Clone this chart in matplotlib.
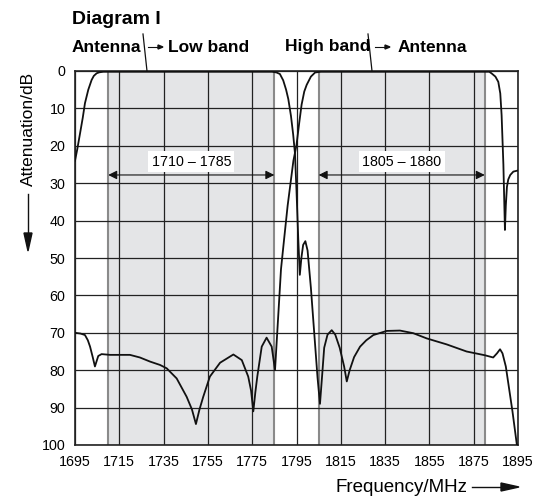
import numpy as np
import matplotlib.pyplot as plt

plt.rcParams['font.family'] = ['Liberation Sans', 'DejaVu Sans']

# Antenna -> Low band
low_f = [1695, 1696, 1697.3, 1698.5, 1699.5, 1701, 1702.5, 1703.5, 1704.8, 1706, 1707.8,
         1784, 1786, 1787.5, 1789, 1790.3, 1791.3, 1792.5, 1793.5, 1794.3, 1795, 1795.8,
         1796.5, 1797.2, 1798, 1799, 1800, 1801.5, 1803, 1804.5, 1805.6, 1806.5, 1807.5,
         1809, 1810.9, 1812.5, 1814.5, 1816.5, 1817.7, 1819, 1821, 1823.7, 1826.5, 1829.7,
         1835.7, 1841.7, 1847.7, 1853.8, 1862.8, 1871.8, 1880, 1883.8, 1885.5, 1886.9,
         1888, 1889.5, 1891, 1892.5, 1894.5, 1895]
low_db = [24, 21, 16.6, 12.5, 8.6, 5, 2.4, 1.3, 0.6, 0.35, 0.2,
          0.2, 0.4, 0.8, 2.5, 5, 7.5, 12, 17, 22, 32, 45,
          54.5, 50, 46.5, 45.5, 48, 58, 70, 82, 89, 82, 74,
          70.5, 69.3, 70.5, 74, 79, 83, 80, 76.5, 73.7, 72, 70.6,
          69.5, 69.4, 70.1, 71.5, 73.1, 75, 76, 76.6, 75.5, 74.4,
          75.5, 79, 85, 91, 100, 100]

# High band -> Antenna
high_f = [1695, 1697.5, 1699.5, 1700.8, 1701.8, 1703, 1704, 1705.5, 1707, 1710.8, 1719.8,
          1724.3, 1728.9, 1733.4, 1736.4, 1740.9, 1745.4, 1747.8, 1749.6, 1751.2, 1752.9,
          1755.9, 1760.5, 1766.5, 1770.3, 1773.2, 1774.5, 1775.5, 1776.4, 1777.3, 1779.3,
          1781.5, 1783.8, 1785.3, 1786.5, 1788, 1789.4, 1791, 1793.6, 1795, 1796.2, 1797.3,
          1798.5, 1799.6, 1801.5, 1803.4, 1806, 1882, 1883, 1884.8, 1886.1, 1887, 1887.6,
          1888.4, 1888.8, 1889.1, 1889.5, 1890, 1890.6, 1891.5, 1892.9, 1895]
high_db = [70, 70.2, 70.6, 72, 73.7, 76.5, 79, 76.2, 75.7, 75.9, 75.9,
           76.6, 77.7, 78.6, 79.5, 82.2, 87.1, 90.5, 94.4, 90.5, 87.1,
           81.7, 78, 75.8, 77.3, 81.7, 85.5, 91, 86, 81.7, 73.7,
           71.3, 73.7, 80, 68, 53, 45, 36, 24, 19.8, 14, 9,
           5.5, 3.7, 1.5, 0.4, 0.2, 0.2, 0.6, 1.5, 2.9, 6, 11.8,
           25, 35, 42.5, 36, 31, 29, 27.8, 26.9, 26.6]

x_ticks = list(range(1695, 1896, 20))
y_ticks = list(range(0, 101, 10))
bands = [(1710, 1785), (1805, 1880)]
band_labels = ['1710 – 1785', '1805 – 1880']

fig = plt.figure(figsize=(5.53, 4.96), dpi=100)
ax = fig.add_axes([75 / 553, 1 - 445 / 496, 443 / 553, 374 / 496])

for (b0, b1), lab in zip(bands, band_labels):
    ax.axvspan(b0, b1, color='#e4e5e7', lw=0, zorder=0)
    ax.axvline(b0, color='#8a8a8a', lw=1.5, zorder=1)
    ax.axvline(b1, color='#8a8a8a', lw=1.5, zorder=1)
    ax.annotate('', xy=(b0, 27.8), xytext=(b1, 27.8),
                arrowprops=dict(arrowstyle='<|-|>', color='#111', lw=0.8,
                                mutation_scale=13, shrinkA=0, shrinkB=0), zorder=4)
    ax.text((b0 + b1) / 2, 24.3, lab, ha='center', va='center', fontsize=10.3,
            bbox=dict(facecolor='white', edgecolor='none', pad=2.5), zorder=5)

for xt in x_ticks:
    ax.axvline(xt, color='#222', lw=0.9, zorder=2)
for yt in y_ticks:
    ax.axhline(yt, color='#222', lw=0.9, zorder=2)

ax.plot(low_f, low_db, color='#111', lw=1.3, zorder=6, clip_on=True)
ax.plot(high_f, high_db, color='#111', lw=1.3, zorder=6, clip_on=True)

ax.set_xlim(1695, 1895)
ax.set_ylim(100, 0)
ax.set_xticks(x_ticks)
ax.set_yticks(y_ticks)
ax.tick_params(length=0, labelsize=10.3, pad=7)
for s in ax.spines.values():
    s.set_linewidth(1.2)
    s.set_color('#222')

# titles and labels
fig.text(72 / 553, 1 - 20 / 496, 'Diagram I', fontsize=14, fontweight='bold', va='center')
fig.text(72 / 553, 1 - 47 / 496, 'Antenna', fontsize=12.5, fontweight='bold', va='center')
fig.text(168 / 553, 1 - 47 / 496, 'Low band', fontsize=12.5, fontweight='bold', va='center')
fig.text(285 / 553, 1 - 47 / 496, 'High band', fontsize=12.5, fontweight='bold', va='center')
fig.text(398 / 553, 1 - 47 / 496, 'Antenna', fontsize=12.5, fontweight='bold', va='center')
for x0, x1 in [(148, 163), (375, 390)]:
    fig.add_artist(plt.Line2D([x0 / 553, (x1 - 4) / 553], [1 - 47 / 496, 1 - 47 / 496], color='#111', lw=0.8))
    fig.patches.append(plt.Polygon([[(x1 - 5) / 553, 1 - 45 / 496], [(x1 - 5) / 553, 1 - 49 / 496], [x1 / 553, 1 - 47 / 496]],
                                   closed=True, color='#111', transform=fig.transFigure, figure=fig))
fig.add_artist(plt.Line2D([143 / 553, 147 / 553], [1 - 34 / 496, 1 - 71 / 496], color='#111', lw=0.9))
fig.add_artist(plt.Line2D([368 / 553, 372 / 553], [1 - 34 / 496, 1 - 71 / 496], color='#111', lw=0.9))

fig.text(28 / 553, 1 - 129 / 496, 'Attenuation/dB', rotation=90, fontsize=12.5, ha='center', va='center')
fig.add_artist(plt.Line2D([28 / 553, 28 / 553], [1 - 194 / 496, 1 - 235 / 496], color='#111', lw=1.0))
fig.patches.append(plt.Polygon([[24 / 553, 1 - 233 / 496], [32 / 553, 1 - 233 / 496], [28 / 553, 1 - 251 / 496]],
                               closed=True, color='#111', transform=fig.transFigure, figure=fig))

fig.text(401 / 553, 1 - 487 / 496, 'Frequency/MHz', fontsize=13.5, ha='center', va='center')
fig.add_artist(plt.Line2D([472 / 553, 503 / 553], [1 - 487 / 496, 1 - 487 / 496], color='#111', lw=1.0))
fig.patches.append(plt.Polygon([[501 / 553, 1 - 483 / 496], [501 / 553, 1 - 491 / 496], [519 / 553, 1 - 487 / 496]],
                               closed=True, color='#111', transform=fig.transFigure, figure=fig))

fig.savefig('out.png', dpi=100)
